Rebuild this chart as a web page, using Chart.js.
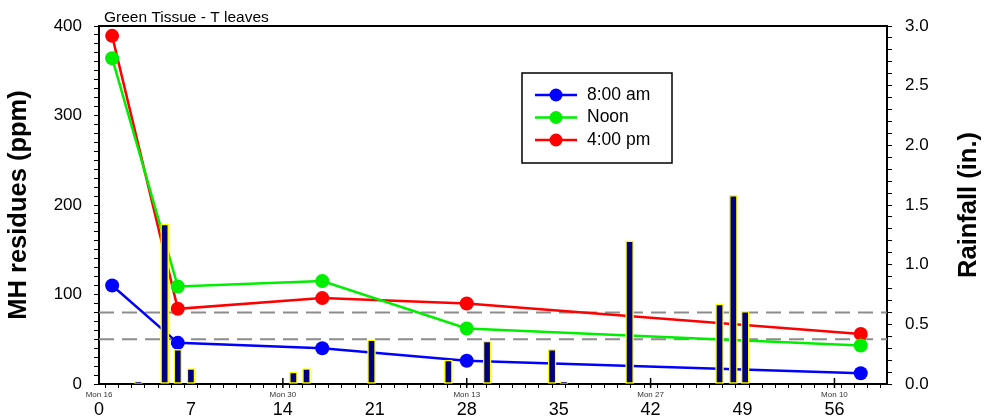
<!DOCTYPE html>
<html>
<head>
<meta charset="utf-8">
<script src="https://cdn.jsdelivr.net/npm/chart.js@4.4.0/dist/chart.umd.min.js"></script>
<style>
  body { margin: 0; background: #fff; }
  #wrap { width: 984px; height: 419px; }
</style>
</head>
<body>
<div id="wrap"><canvas id="chartArea" width="984" height="419"></canvas></div>
<script>
// sampling days and residues (ppm)
var sampleDays = [1, 6, 17, 28, 58];
var am8 = [110, 46, 40, 26, 12];
var noon = [364, 109, 115, 62, 43];
var pm4 = [389, 84, 96, 90, 56];
var seriesNames = ['8:00 am', 'Noon', '4:00 pm'];

// rainfall (in.)
var rainDays = [3, 5, 6, 7, 14.8, 15.8, 20.75, 26.6, 29.55, 34.5, 35.4, 40.4, 47.25, 48.3, 49.2];
var rainIn = [0.02, 1.34, 0.29, 0.13, 0.10, 0.13, 0.37, 0.20, 0.36, 0.29, 0.02, 1.20, 0.67, 1.58, 0.61];

// reference levels (ppm)
var refLevels = [80, 50];

// calendar labels under the day axis
var dateDays = [0, 14, 28, 42, 56];
var dateLabels = ['Mon 16', 'Mon 30', 'Mon 13', 'Mon 27', 'Mon 10'];

var chartTitle = 'Green Tissue - T leaves';
var leftTitle = 'MH residues (ppm)';
var rightTitle = 'Rainfall (in.)';

Chart.defaults.font.family = "'Liberation Sans', Arial, sans-serif";
Chart.defaults.color = '#000';

function toPoints(xs, ys) {
    return xs.map(function (x, i) { return { x: x, y: ys[i] }; });
}

var colors = ['#0000ff', '#00ee00', '#ff0000'];
var lineSets = [am8, noon, pm4].map(function (vals, i) {
    return {
        type: 'line',
        label: seriesNames[i],
        data: toPoints(sampleDays, vals),
        borderColor: colors[i],
        backgroundColor: colors[i],
        borderWidth: 2.5,
        pointRadius: 7,
        pointBorderWidth: 0,
        pointBackgroundColor: colors[i],
        yAxisID: 'y',
        order: 1
    };
});

var refSets = refLevels.map(function (v) {
    return {
        type: 'line',
        label: 'ref',
        data: [{ x: 0, y: v }, { x: 60, y: v }],
        borderColor: '#8c8c8c',
        borderWidth: 2,
        borderDash: [15, 8],
        pointRadius: 0,
        yAxisID: 'y',
        order: 2
    };
});

var rainSet = {
    type: 'bar',
    label: 'Rainfall',
    data: toPoints(rainDays, rainIn),
    backgroundColor: '#000080',
    borderColor: '#ffff00',
    borderWidth: 1.5,
    borderSkipped: false,
    barThickness: 8,
    yAxisID: 'y1',
    order: 0
};

// frame, titles, date labels and boxed legend
var extras = {
    id: 'extras',
    afterDraw: function (chart) {
        var ctx = chart.ctx;
        var a = chart.chartArea;
        var xs = chart.scales.x;
        ctx.save();
        ctx.strokeStyle = '#000';
        ctx.lineWidth = 2;
        ctx.beginPath();
        ctx.moveTo(a.left, a.top);
        ctx.lineTo(a.right, a.top);
        ctx.stroke();

        ctx.fillStyle = '#000';
        ctx.font = "15.5px 'Liberation Sans', Arial";
        ctx.textAlign = 'left';
        ctx.textBaseline = 'alphabetic';
        ctx.fillText(chartTitle, 104, 22);

        // right axis title, read bottom to top
        ctx.save();
        ctx.translate(969, (a.top + a.bottom) / 2);
        ctx.rotate(-Math.PI / 2);
        ctx.font = "bold 25.5px 'Liberation Sans', Arial";
        ctx.textAlign = 'center';
        ctx.textBaseline = 'middle';
        ctx.fillText(rightTitle, 0, 0);
        ctx.restore();

        ctx.font = "8px 'Liberation Sans', Arial";
        ctx.textAlign = 'center';
        ctx.textBaseline = 'middle';
        ctx.fillStyle = '#333';
        ctx.lineWidth = 1.5;
        dateDays.forEach(function (d, i) {
            var px = xs.getPixelForValue(d);
            ctx.fillText(dateLabels[i], px, a.bottom + 11);
            if (d > 0) {
                ctx.beginPath();
                ctx.moveTo(px, a.bottom - 6);
                ctx.lineTo(px, a.bottom + 4);
                ctx.stroke();
            }
        });

        // legend box
        var bx = 522, by = 73, bw = 150, bh = 90;
        ctx.fillStyle = '#fff';
        ctx.fillRect(bx, by, bw, bh);
        ctx.strokeStyle = '#000';
        ctx.lineWidth = 1.5;
        ctx.strokeRect(bx, by, bw, bh);
        ctx.font = "17.5px 'Liberation Sans', Arial";
        ctx.textAlign = 'left';
        ctx.textBaseline = 'middle';
        lineSets.forEach(function (ds, i) {
            var ry = by + 22 + i * 22.5;
            ctx.strokeStyle = ds.borderColor;
            ctx.lineWidth = 2.5;
            ctx.beginPath();
            ctx.moveTo(bx + 13, ry);
            ctx.lineTo(bx + 55, ry);
            ctx.stroke();
            ctx.fillStyle = ds.borderColor;
            ctx.beginPath();
            ctx.arc(bx + 34, ry, 6.5, 0, Math.PI * 2);
            ctx.fill();
            ctx.fillStyle = '#000';
            ctx.fillText(ds.label, bx + 65, ry);
        });
        ctx.restore();
    }
};

var ctx = document.getElementById('chartArea').getContext('2d');
var myChart = new Chart(ctx, {
    type: 'line',
    data: { datasets: lineSets.concat(refSets, [rainSet]) },
    options: {
        responsive: false,
        animation: false,
        layout: { padding: { top: 26, left: 0, right: 0, bottom: 0 } },
        plugins: { legend: { display: false }, tooltip: { enabled: false } },
        scales: {
            x: {
                type: 'linear',
                min: 0,
                max: 60,
                offset: false,
                border: { color: '#000', width: 2 },
                grid: { drawOnChartArea: false, tickLength: 4, color: '#000', tickWidth: 1 },
                ticks: {
                    stepSize: 1,
                    autoSkip: false,
                    maxRotation: 0,
                    padding: 11,
                    font: { size: 18 },
                    callback: function (v) { return (v % 7 === 0 && v <= 56) ? String(v) : ''; }
                },
                afterFit: function (s) { s.height = 35; }
            },
            y: {
                position: 'left',
                min: 0,
                max: 400,
                border: { color: '#000', width: 2 },
                grid: { drawOnChartArea: false, tickLength: 5, color: '#000', tickWidth: 1 },
                ticks: {
                    stepSize: 10,
                    autoSkip: false,
                    padding: 12,
                    font: { size: 17 },
                    callback: function (v) { return v % 100 === 0 ? String(v) : ''; }
                },
                title: {
                    display: true,
                    text: leftTitle,
                    font: { size: 25.5, weight: 'bold' },
                    padding: { top: 4, bottom: 0 }
                },
                afterFit: function (s) { s.width = 99; }
            },
            y1: {
                position: 'right',
                min: 0,
                max: 3,
                border: { color: '#000', width: 2 },
                grid: { drawOnChartArea: false, tickLength: 5, color: '#000', tickWidth: 1 },
                ticks: {
                    stepSize: 0.1,
                    autoSkip: false,
                    padding: 13,
                    font: { size: 17 },
                    callback: function (v) {
                        var t = Math.round(v * 10);
                        return t % 5 === 0 ? (t / 10).toFixed(1) : '';
                    }
                },
                afterFit: function (s) { s.width = 97; }
            }
        }
    },
    plugins: [extras]
});
</script>
</body>
</html>
